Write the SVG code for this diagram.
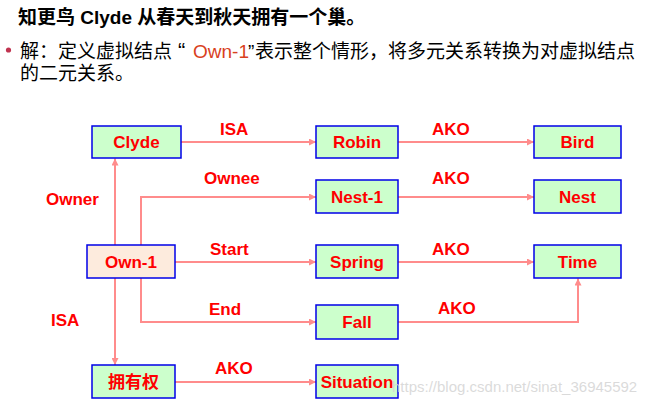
<svg xmlns="http://www.w3.org/2000/svg" width="647" height="404" viewBox="0 0 647 404">
<style>
.t{font-family:"Liberation Sans","Noto Sans CJK SC",sans-serif}
.title{font-size:19px;font-weight:bold;fill:#000}
.body{font-size:19px;fill:#000}
.box{fill:#CCFFCC;stroke:#0000E8;stroke-width:1.5}
.own{fill:#FDEBDD;stroke:#0000E8;stroke-width:1.5}
.nt{font-size:17px;font-weight:bold;fill:#FF0000;text-anchor:middle}
.lb{font-size:17px;font-weight:bold;fill:#FF0000}
.ln{fill:none;stroke:#FF8C8C;stroke-width:2}
</style>
<defs>
<marker id="ah" viewBox="0 0 10 10" refX="10" refY="5" markerWidth="9" markerHeight="7" markerUnits="userSpaceOnUse" orient="auto">
<path d="M0,0 L10,5 L0,10 z" fill="#FF8C8C"/>
</marker>
</defs>
<rect width="647" height="404" fill="#FFFFFF"/>
<g id="header">
<text class="t title" x="18" y="24">知更鸟 Clyde 从春天到秋天拥有一个巢。</text>
<circle cx="8.5" cy="50" r="2.6" fill="#C0334F"/>
<text class="t body" y="58"><tspan x="20" font-family="Noto Sans CJK SC, sans-serif">解：定义虚拟结点</tspan><tspan x="178" font-size="22">“</tspan><tspan x="193" fill="#D9411E">Own-1</tspan><tspan x="248">”</tspan><tspan x="255" font-family="Noto Sans CJK SC, sans-serif">表示整个情形，将多元关系转换为对虚拟结点</tspan></text>
<text class="t body" x="20" y="80" font-family="Noto Sans CJK SC, sans-serif">的二元关系。</text>
</g>
<g id="connectors">
<path class="ln" d="M181,142 H316" marker-end="url(#ah)"/>
<path class="ln" d="M398,142 H534" marker-end="url(#ah)"/>
<path class="ln" d="M398,197 H534" marker-end="url(#ah)"/>
<path class="ln" d="M398,262 H534" marker-end="url(#ah)"/>
<path class="ln" d="M398,322 H578 V278.5" marker-end="url(#ah)"/>
<path class="ln" d="M115,245 V158.5" marker-end="url(#ah)"/>
<path class="ln" d="M141,245 V197 H316" marker-end="url(#ah)"/>
<path class="ln" d="M175,262 H316" marker-end="url(#ah)"/>
<path class="ln" d="M141,278 V322 H316" marker-end="url(#ah)"/>
<path class="ln" d="M115,278 V365" marker-end="url(#ah)"/>
<path class="ln" d="M175,382 H316" marker-end="url(#ah)"/>
</g>
<g id="labels">
<text class="t lb" x="220" y="135">ISA</text>
<text class="t lb" x="204" y="184">Ownee</text>
<text class="t lb" x="210" y="255">Start</text>
<text class="t lb" x="209" y="315">End</text>
<text class="t lb" x="215" y="374">AKO</text>
<text class="t lb" x="46" y="205">Owner</text>
<text class="t lb" x="51" y="326">ISA</text>
<text class="t lb" x="432" y="135">AKO</text>
<text class="t lb" x="432" y="184">AKO</text>
<text class="t lb" x="432" y="255">AKO</text>
<text class="t lb" x="438" y="314">AKO</text>
</g>
<g id="Clyde"><rect class="box" x="92" y="126" width="89" height="32"/><text class="t nt" x="136.5" y="148">Clyde</text></g>
<g id="Robin"><rect class="box" x="316" y="126" width="82" height="32"/><text class="t nt" x="357" y="148">Robin</text></g>
<g id="Bird"><rect class="box" x="534" y="126" width="87" height="32"/><text class="t nt" x="577.5" y="148">Bird</text></g>
<g id="Nest-1"><rect class="box" x="316" y="180" width="82" height="33"/><text class="t nt" x="357" y="203">Nest-1</text></g>
<g id="Nest"><rect class="box" x="534" y="180" width="87" height="33"/><text class="t nt" x="577.5" y="203">Nest</text></g>
<g id="Own-1"><rect class="own" x="87" y="245" width="88" height="33"/><text class="t nt" x="131" y="268">Own-1</text></g>
<g id="Spring"><rect class="box" x="316" y="245" width="82" height="33"/><text class="t nt" x="357" y="268">Spring</text></g>
<g id="Time"><rect class="box" x="534" y="245" width="87" height="33"/><text class="t nt" x="577.5" y="268">Time</text></g>
<g id="Fall"><rect class="box" x="316" y="305" width="82" height="34"/><text class="t nt" x="357" y="328">Fall</text></g>
<g id="拥有权"><rect class="box" x="92" y="365" width="83" height="33"/><text class="t nt" x="133.5" y="388" font-family="Noto Sans CJK SC, sans-serif">拥有权</text></g>
<g id="Situation"><rect class="box" x="316" y="365" width="82" height="33"/><text class="t nt" x="357" y="388">Situation</text></g>
<text class="t" x="392" y="392" font-size="15" fill="#D4D4D4" fill-opacity="0.85">https://blog.csdn.net/sinat_36945592</text>
</svg>
